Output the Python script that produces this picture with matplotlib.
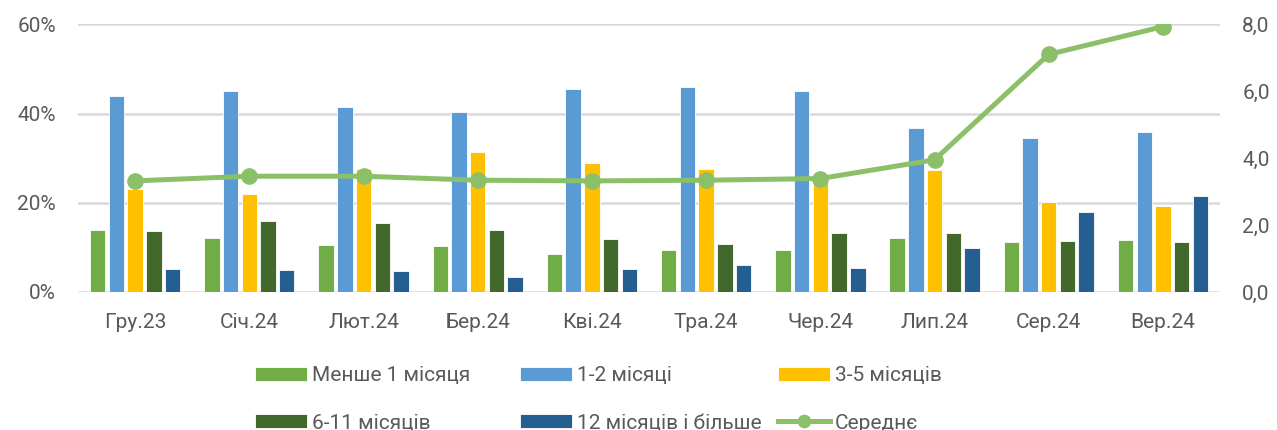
import numpy as np
import matplotlib
matplotlib.use("Agg")
import matplotlib.pyplot as plt
from matplotlib.ticker import FuncFormatter

months = ['Гру.23', 'Січ.24', 'Лют.24', 'Бер.24', 'Кві.24',
          'Тра.24', 'Чер.24', 'Лип.24', 'Сер.24', 'Вер.24']

less_1 = [13.9, 12.0, 10.5, 10.4, 8.5, 9.4, 9.4, 12.2, 11.3, 11.7]
m1_2 = [44.0, 45.1, 41.4, 40.4, 45.4, 45.9, 45.1, 36.8, 34.5, 35.8]
m3_5 = [23.0, 21.9, 27.6, 31.4, 29.0, 27.5, 25.1, 27.4, 20.2, 19.3]
m6_11 = [13.7, 15.9, 15.5, 14.0, 11.9, 10.7, 13.3, 13.2, 11.5, 11.3]
m12_plus = [5.2, 4.9, 4.6, 3.4, 5.1, 6.1, 5.4, 9.9, 17.9, 21.5]
average = [3.32, 3.46, 3.46, 3.34, 3.32, 3.34, 3.39, 3.95, 7.10, 7.93]

labels = ['Менше 1 місяця', '1-2 місяці', '3-5 місяців',
          '6-11 місяців', '12 місяців і більше', 'Середнє']
colors = ['#70AD47', '#5B9BD5', '#FFC000', '#43682B', '#255E91']
line_color = '#8CC068'
text_color = '#595959'
grid_color = '#D9D9D9'

plt.rcParams['font.family'] = ['Roboto', 'DejaVu Sans']

fig = plt.figure(figsize=(12.77, 4.30), dpi=100)
ax = fig.add_axes([0.0611, 0.321, 0.8943, 0.6225])
ax2 = ax.twinx()

x = np.arange(len(months))
step = 0.164
width = 0.135
series = [less_1, m1_2, m3_5, m6_11, m12_plus]
handles = []
for i, vals in enumerate(series):
    b = ax.bar(x + (i - 2) * step, vals, width, color=colors[i], label=labels[i],
               edgecolor='white', linewidth=0.6, zorder=3)
    handles.append(b)

ln, = ax2.plot(x, average, color=line_color, lw=3.6, marker='o', markersize=11,
               label=labels[5], zorder=4)
handles.append(ln)

ax.set_xlim(-0.5, len(months) - 0.5)
ax.set_ylim(0, 60)
ax.set_yticks([0, 20, 40, 60])
ax.yaxis.set_major_formatter(FuncFormatter(lambda v, p: f'{int(v)}%'))
ax2.set_ylim(0, 8)
ax2.set_yticks([0, 2, 4, 6, 8])
ax2.yaxis.set_major_formatter(FuncFormatter(lambda v, p: f'{v:.1f}'.replace('.', ',')))

ax.set_xticks(x)
ax.set_xticklabels(months)
ax.grid(axis='y', color=grid_color, lw=1.8, zorder=0)
ax.set_axisbelow(True)

for a in (ax, ax2):
    for s in ['top', 'right', 'left', 'bottom']:
        a.spines[s].set_visible(False)
    a.tick_params(length=0, labelsize=15, colors=text_color)
ax.tick_params(axis='x', pad=15)
ax.tick_params(axis='y', pad=16)
ax2.tick_params(axis='y', pad=16)
ax2.set_zorder(ax.get_zorder() + 1)
ax2.patch.set_visible(False)

# legend: three columns, each placed at its own x position
col_x = [0.1997, 0.4072, 0.6092]
for c in range(3):
    leg = fig.legend([handles[c], handles[c + 3]], [labels[c], labels[c + 3]],
                     loc='center left', bbox_to_anchor=(col_x[c], 0.071),
                     frameon=False, fontsize=15, handlelength=2.5,
                     handleheight=0.67, handletextpad=0.25, labelspacing=1.35,
                     borderpad=0, borderaxespad=0, markerscale=0.8)
    for t in leg.get_texts():
        t.set_color(text_color)

fig.savefig('out.png', dpi=100)
